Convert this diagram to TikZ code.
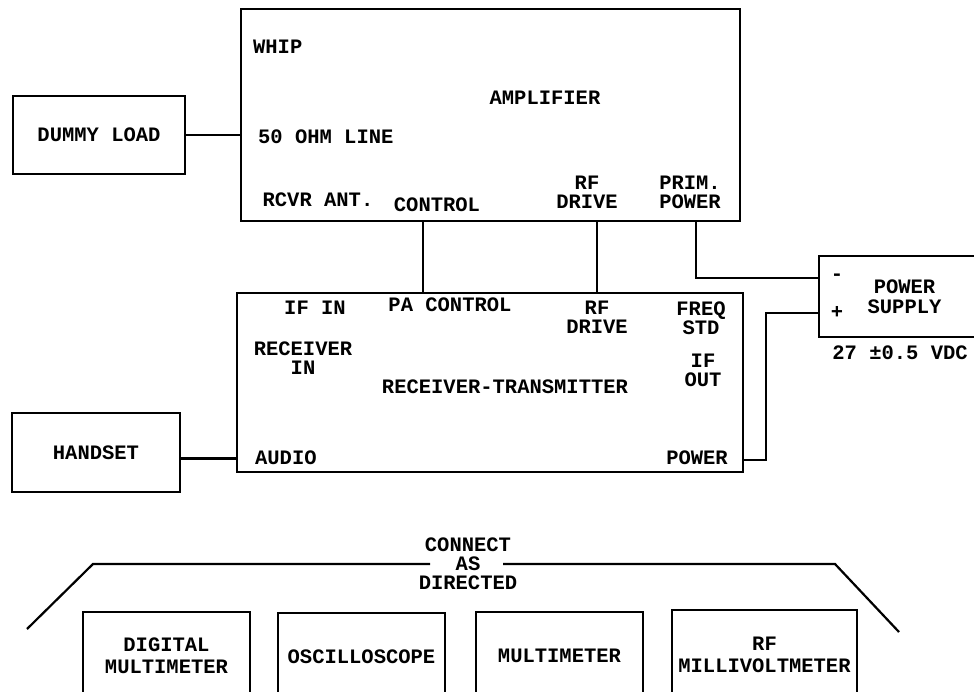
\documentclass[tikz,border=0pt]{standalone}
\usepackage{fontspec}
\setmainfont{Liberation Mono}
\usetikzlibrary{positioning}

\begin{document}
\begin{tikzpicture}[x=1pt,y=-1pt,line width=2.2pt,every node/.style={font=\bfseries\fontsize{20.5}{19}\selectfont,inner sep=0pt,align=center},box/.style={draw,line width=2.4pt}]
\useasboundingbox (0,0) rectangle (974,692);
% amplifier
\node[box,minimum width=499pt,minimum height=212pt] (amp) at (490.5,115){};
\node[anchor=west] (whip) at (252,47){WHIP};
\node (ampl) at (545,98){AMPLIFIER};
\node[anchor=west] (ohm) at (257,137){50 OHM LINE};
\node (rcvr) at (318,200){RCVR ANT.};
\node (ctl) at (437,205){CONTROL};
\node (rfa) at (587,192){RF\\DRIVE};
\node (prim) at (690,192){PRIM.\\POWER};
% receiver-transmitter
\node[box,minimum width=506pt,minimum height=179pt] (rt) at (490,382.5){};
\node (ifin) at (315,308){IF IN};
\node (pactl) at (450,305){PA CONTROL};
\node (rfd) at (597,317){RF\\DRIVE};
\node (freq) at (701,318){FREQ\\STD};
\node (rcvin) at (303,358){RECEIVER\\IN};
\node (ifout) at (703,370){IF\\OUT};
\node (rtname) at (505,387){RECEIVER-TRANSMITTER};
\node[anchor=west] (audio) at (254,458){AUDIO};
\node (pwr) at (697,458){POWER};
% side units
\node[box,minimum width=172pt,minimum height=78pt] (dummy) at (99,135){DUMMY LOAD};
\node[box,minimum width=168pt,minimum height=79pt] (hset) at (96,452.5){HANDSET};
\node[box,minimum width=171pt,minimum height=81pt] (psu) at (904.5,296.5){POWER\\[1pt]SUPPLY};
\node (neg) at (837,277){-};
\node (pos) at (837,312){+};
\node (vdc) at (900,353){27 ±0.5 VDC};
% cabling
\draw (dummy.east) -- (dummy.east -| amp.west);
\draw ([yshift=-6pt]hset.east) -- ([yshift=-6pt]hset.east -| rt.west);
\draw ([xshift=-67.5pt]amp.south) -- ([xshift=-67.5pt]amp.south |- rt.north);
\draw ([xshift=106.5pt]amp.south) -- ([xshift=106.5pt]amp.south |- rt.north);
\coordinate (psum) at (psu.west |- 0,278);
\coordinate (psup) at (psu.west |- 0,313);
\coordinate (rtpwr) at (rt.east |- 0,460);
\draw (psum) -| ([xshift=205.5pt]amp.south);
\draw (psup) -- ++(-52,0) |- (rtpwr);
% test equipment
\node (cnct) at (468,564){CONNECT\\AS\\DIRECTED};
\draw (430,564) -- (93,564) -- (27,629);
\draw (503,564) -- (835,564) -- (899,632);
\node[box,minimum width=167pt,minimum height=88pt] (dmm) at (166.5,656){DIGITAL\\[3pt]MULTIMETER};
\node[box,minimum width=167pt,minimum height=87pt] (osc) at (361.5,656.5){OSCILLOSCOPE};
\node[box,minimum width=167pt,minimum height=88pt] (mm) at (559.5,656){MULTIMETER};
\node[box,minimum width=185pt,minimum height=90pt] (rfmv) at (764.5,655){RF\\[3pt]MILLIVOLTMETER};
\end{tikzpicture}
\end{document}
